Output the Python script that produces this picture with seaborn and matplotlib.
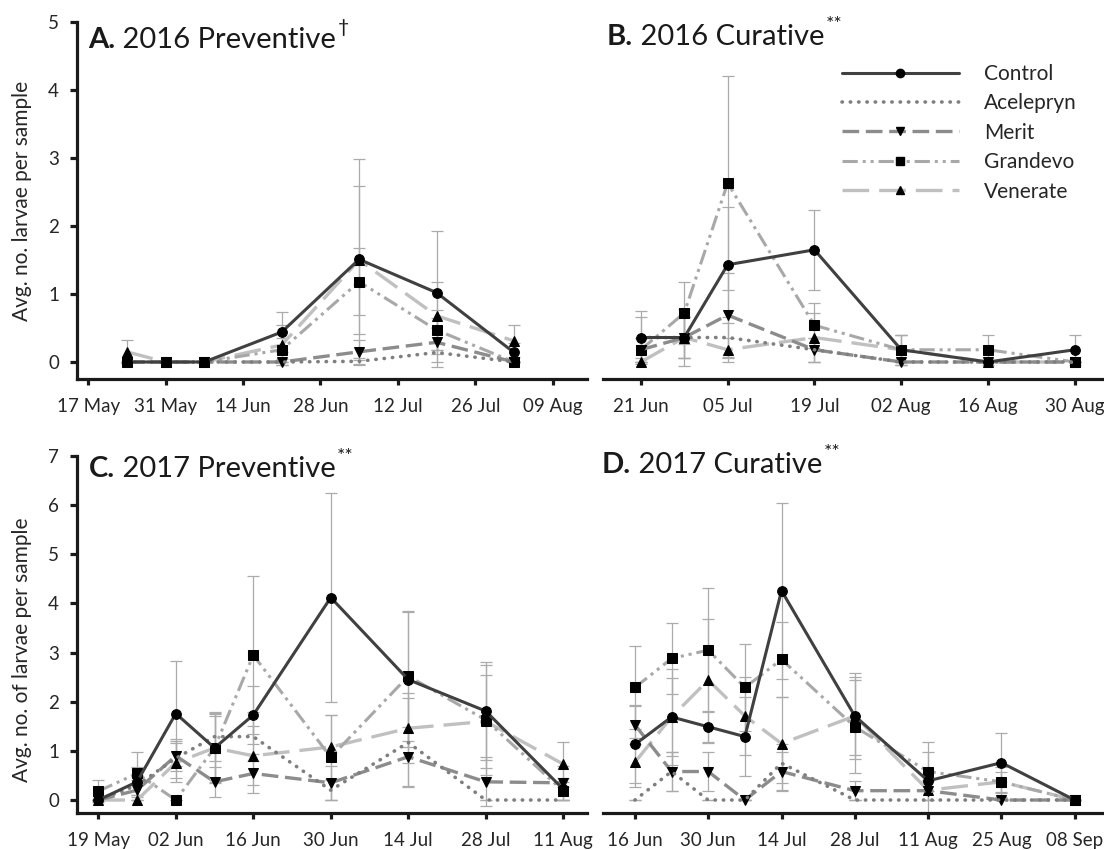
import numpy as np
import pandas as pd
import matplotlib
matplotlib.use("Agg")
import matplotlib.pyplot as plt
import matplotlib.dates as mdates
from matplotlib.lines import Line2D
import seaborn as sns

sns.set_theme(style="ticks")
plt.rcParams['font.family'] = ['Lato', 'DejaVu Sans']

treatments = ['Control', 'Acelepryn', 'Merit', 'Grandevo', 'Venerate']

# ---------------- Panel A: 2016 Preventive ----------------
a_dates = ['2016-05-24', '2016-05-31', '2016-06-07', '2016-06-21', '2016-07-05', '2016-07-19', '2016-08-02']
a_control = [0, 0, 0, 0.44, 1.51, 1.02, 0.14]
a_acelepryn = [0, 0, 0, 0, 0.01, 0.14, 0]
a_merit = [0, 0, 0, 0, 0.15, 0.29, 0]
a_grandevo = [0, 0, 0, 0.18, 1.18, 0.47, 0]
a_venerate = [0.15, 0, 0, 0.25, 1.50, 0.68, 0.31]
a_control_se = [0, 0, 0, 0.30, 1.48, 0.90, 0.14]
a_acelepryn_se = [0, 0, 0, 0, 0.05, 0.14, 0]
a_merit_se = [0, 0, 0, 0.05, 0.18, 0.36, 0]
a_grandevo_se = [0, 0, 0, 0.18, 0.49, 0.30, 0]
a_venerate_se = [0.17, 0, 0, 0.30, 1.09, 0.50, 0.24]

# ---------------- Panel B: 2016 Curative ----------------
b_dates = ['2016-06-21', '2016-06-28', '2016-07-05', '2016-07-19', '2016-08-02', '2016-08-16', '2016-08-30']
b_control = [0.36, 0.36, 1.43, 1.65, 0.18, 0, 0.18]
b_acelepryn = [0.36, 0.36, 0.36, 0.18, 0, 0, 0]
b_merit = [0.18, 0.36, 0.69, 0.18, 0, 0, 0]
b_grandevo = [0.18, 0.72, 2.63, 0.54, 0.18, 0.18, 0]
b_venerate = [0, 0.36, 0.18, 0.36, 0.18, 0, 0]
b_control_se = [0.39, 0.42, 0.85, 0.59, 0.22, 0, 0.22]
b_acelepryn_se = [0.30, 0.30, 0.30, 0.18, 0, 0, 0]
b_merit_se = [0.18, 0.30, 0.62, 0.18, 0, 0, 0]
b_grandevo_se = [0.18, 0.45, 1.57, 0.33, 0.22, 0.22, 0]
b_venerate_se = [0, 0.30, 0.18, 0.36, 0.22, 0, 0]

# ---------------- Panel C: 2017 Preventive ----------------
c_dates = ['2017-05-19', '2017-05-26', '2017-06-02', '2017-06-09', '2017-06-16', '2017-06-30', '2017-07-14', '2017-07-28', '2017-08-11']
c_control = [0, 0.37, 1.76, 1.06, 1.73, 4.12, 2.45, 1.81, 0.22]
c_acelepryn = [0, 0.30, 0.85, 1.29, 1.29, 0.20, 1.17, 0, 0]
c_merit = [0, 0.20, 0.90, 0.37, 0.54, 0.35, 0.88, 0.37, 0.35]
c_grandevo = [0.18, 0.54, 0, 1.06, 2.95, 0.87, 2.52, 1.63, 0.18]
c_venerate = [0, 0, 0.76, 1.06, 0.90, 1.08, 1.46, 1.60, 0.73]
c_control_se = [0, 0.31, 1.07, 0.72, 0.60, 2.12, 1.38, 0.99, 0.22]
c_acelepryn_se = [0, 0.20, 0.40, 0.50, 0.50, 0.20, 0.90, 0, 0]
c_merit_se = [0, 0.20, 0.30, 0.30, 0.40, 0.35, 0.60, 0.50, 0.35]
c_grandevo_se = [0.22, 0.43, 0, 0.70, 1.61, 0.87, 1.32, 1.12, 0.18]
c_venerate_se = [0, 0, 0.40, 0.65, 0.60, 0.66, 0.71, 0.94, 0.46]

# ---------------- Panel D: 2017 Curative ----------------
d_dates = ['2017-06-16', '2017-06-23', '2017-06-30', '2017-07-07', '2017-07-14', '2017-07-28', '2017-08-11', '2017-08-25', '2017-09-08']
d_control = [1.13, 1.69, 1.49, 1.29, 4.26, 1.71, 0.39, 0.76, 0]
d_acelepryn = [0, 0.58, 0, 0, 0.75, 0, 0, 0, 0]
d_merit = [1.53, 0.58, 0.58, 0, 0.58, 0.19, 0.19, 0, 0]
d_grandevo = [2.29, 2.88, 3.05, 2.29, 2.86, 1.49, 0.58, 0.37, 0]
d_venerate = [0.77, 1.69, 2.44, 1.71, 1.15, 1.71, 0.20, 0.37, 0]
d_control_se = [0.79, 0.97, 0.32, 0.80, 1.79, 0.88, 0.80, 0.61, 0]
d_acelepryn_se = [0, 0.40, 0, 0, 0.40, 0, 0, 0, 0]
d_merit_se = [0.40, 0.40, 0.40, 0, 0.40, 0.19, 0.19, 0, 0]
d_grandevo_se = [0.85, 0.72, 1.26, 0.88, 0.77, 0.95, 0.40, 0.30, 0]
d_venerate_se = [0.50, 0.80, 1.25, 0.80, 0.95, 0.80, 0.20, 0.20, 0]

panels = {
    'A': (a_dates, [a_control, a_acelepryn, a_merit, a_grandevo, a_venerate],
          [a_control_se, a_acelepryn_se, a_merit_se, a_grandevo_se, a_venerate_se]),
    'B': (b_dates, [b_control, b_acelepryn, b_merit, b_grandevo, b_venerate],
          [b_control_se, b_acelepryn_se, b_merit_se, b_grandevo_se, b_venerate_se]),
    'C': (c_dates, [c_control, c_acelepryn, c_merit, c_grandevo, c_venerate],
          [c_control_se, c_acelepryn_se, c_merit_se, c_grandevo_se, c_venerate_se]),
    'D': (d_dates, [d_control, d_acelepryn, d_merit, d_grandevo, d_venerate],
          [d_control_se, d_acelepryn_se, d_merit_se, d_grandevo_se, d_venerate_se]),
}

styles = {
    'Control':   dict(color='#404040', ls='-', lw=2.2, marker='o', ms=7),
    'Acelepryn': dict(color='#7f7f7f', ls=(0, (0.1, 2.2)), lw=2.6, marker='', ms=0),
    'Merit':     dict(color='#8c8c8c', ls=(0, (5, 2)), lw=2.4, marker='v', ms=7),
    'Grandevo':  dict(color='#a8a8a8', ls=(0, (5, 1.6, 1, 1.6, 1, 1.6)), lw=2.2, marker='s', ms=6.5),
    'Venerate':  dict(color='#c0c0c0', ls=(0, (8, 3)), lw=2.4, marker='^', ms=7),
}

W, H = 1104, 850
fig = plt.figure(figsize=(W / 100, H / 100), dpi=100)


def px_axes(left, top, right, bottom):
    return fig.add_axes([left / W, 1 - bottom / H, (right - left) / W, (bottom - top) / H])


def ds(s):
    return pd.Timestamp(s)


layout = {
    'A': dict(box=(77, 22, 587, 379), ylim=(-0.25, 5), yticks=range(0, 6), left=True,
              tick0='2016-05-17', nt=7, xlim=(ds('2016-05-17') - pd.Timedelta(days=2.0),
                                               ds('2016-05-17') + pd.Timedelta(days=90.2))),
    'B': dict(box=(603, 22, 1104, 379), ylim=(-0.25, 5), yticks=[], left=False,
              tick0='2016-06-21', nt=6, xlim=(ds('2016-06-21') - pd.Timedelta(days=6.1),
                                               ds('2016-06-21') + pd.Timedelta(days=74.7))),
    'C': dict(box=(77, 456, 587, 813), ylim=(-0.264, 7), yticks=range(0, 8), left=True,
              tick0='2017-05-19', nt=7, xlim=(ds('2017-05-19') - pd.Timedelta(days=3.85),
                                               ds('2017-05-19') + pd.Timedelta(days=88.3))),
    'D': dict(box=(603, 456, 1104, 813), ylim=(-0.264, 7), yticks=[], left=False,
              tick0='2017-06-16', nt=7, xlim=(ds('2017-06-16') - pd.Timedelta(days=6.1),
                                               ds('2017-06-16') + pd.Timedelta(days=89.6))),
}

spine_col = '#1a1a1a'
for key, (dates, vals, ses) in panels.items():
    L = layout[key]
    ax = px_axes(*L['box'])
    d = pd.to_datetime(dates)
    order = list(range(len(treatments)))[::-1]
    for i in order:
        ax.errorbar(d, vals[i], yerr=ses[i], fmt='none', ecolor='#ababab',
                    elinewidth=0.9, capsize=4.5, capthick=0.9, zorder=1)
    for i in order:
        name = treatments[i]
        st = styles[name]
        kw = dict(color=st['color'], linestyle=st['ls'], linewidth=st['lw'], zorder=3)
        if st['marker']:
            kw.update(marker=st['marker'], markersize=st['ms'],
                      markerfacecolor='black', markeredgecolor='black')
        else:
            kw.update(dash_capstyle='round')
        sns.lineplot(x=d, y=vals[i], ax=ax, legend=False, errorbar=None, **kw)
    ax.set_xlim(*L['xlim'])
    ax.set_ylim(*L['ylim'])
    ax.set_xlabel('')
    ax.set_ylabel('')
    ticks = pd.date_range(L['tick0'], periods=L['nt'], freq='14D')
    ax.set_xticks(ticks)
    ax.xaxis.set_major_formatter(mdates.DateFormatter('%d %b'))
    ax.set_yticks(list(L['yticks']))
    for s in ['top', 'right']:
        ax.spines[s].set_visible(False)
    ax.spines['bottom'].set_linewidth(2.3)
    ax.spines['bottom'].set_color(spine_col)
    if L['left']:
        ax.spines['left'].set_linewidth(2.3)
        ax.spines['left'].set_color(spine_col)
        ax.spines['left'].set_bounds(L['ylim'][0], L['ylim'][1])
    else:
        ax.spines['left'].set_visible(False)
        ax.tick_params(axis='y', left=False, labelleft=False)
    ax.tick_params(axis='x', direction='out', length=4, width=2.3, color=spine_col,
                   labelsize=13.5, pad=10, labelcolor='#262626')
    ax.tick_params(axis='y', direction='out', length=5, width=2.3, color=spine_col,
                   labelsize=13.5, pad=8, labelcolor='#262626')
    ax.set_facecolor('none')

# Panel titles
titles = [
    ('A.', ' 2016 Preventive', '\u2020', 88, 48),
    ('B.', ' 2016 Curative', '**', 607, 45),
    ('C.', ' 2017 Preventive', '**', 89, 477),
    ('D.', ' 2017 Curative', '**', 602, 473),
]
for lab, txt, sup, x, y in titles:
    t1 = fig.text(x / W, 1 - y / H, lab, fontsize=21, fontweight='bold',
                  ha='left', va='baseline', color='#1a1a1a')
    t2 = plt.annotate(txt, xy=(1, 0), xycoords=t1, xytext=(0, 0), textcoords='offset points',
                      fontsize=21, ha='left', va='bottom', color='#1a1a1a',
                      annotation_clip=False)
    plt.annotate(sup, xy=(1, 1), xycoords=t2, xytext=(1, 6), textcoords='offset points',
                 fontsize=14, ha='left', va='top', color='#1a1a1a', annotation_clip=False)

# Y labels
fig.text(22 / W, 1 - 201 / H, 'Avg. no. larvae per sample', rotation=90,
         ha='center', va='center', fontsize=15, color='#262626')
fig.text(22 / W, 1 - 650 / H, 'Avg. no. of larvae per sample', rotation=90,
         ha='center', va='center', fontsize=15, color='#262626')

# Legend
handles = []
for name in treatments:
    st = styles[name]
    h = Line2D([], [], color=st['color'], linestyle=st['ls'], linewidth=st['lw'],
               marker=st['marker'] if st['marker'] else None, markersize=st['ms'] - 1,
               markerfacecolor='black', markeredgecolor='black',
               dash_capstyle='round' if not st['marker'] else 'butt')
    handles.append(h)
fig.legend(handles, treatments, loc='upper left', bbox_to_anchor=(842 / W, 1 - 64 / H),
           frameon=False, fontsize=15, handlelength=5.6, handletextpad=1.2,
           labelspacing=0.45, borderpad=0, borderaxespad=0, labelcolor='#262626')

fig.savefig('out.png', dpi=100)
